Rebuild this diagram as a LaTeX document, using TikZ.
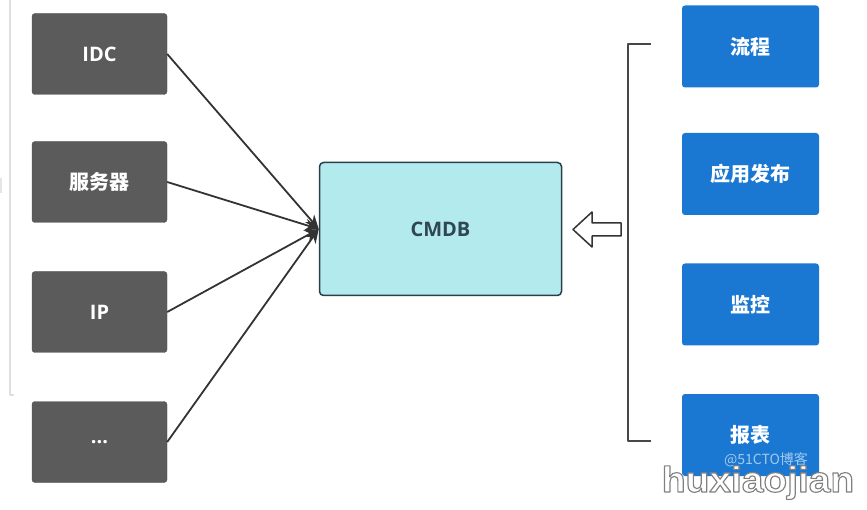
\documentclass[tikz,border=0pt]{standalone}
\usepackage{fontspec}
\setmainfont{Open Sans}
\newfontfamily\cjk{Noto Sans CJK SC}
\newfontfamily\wmfont{Liberation Sans}
\usepackage{tikz}
\usetikzlibrary{arrows.meta,positioning}
\definecolor{srcgray}{HTML}{5B5B5B}
\definecolor{appblue}{HTML}{1A78D2}
\definecolor{cmdbcyan}{HTML}{B3EAEE}
\definecolor{cmdbtext}{HTML}{2F4750}
\definecolor{linegray}{HTML}{333333}
\newcommand{\outlined}[1]{{\color{white}\special{pdf:literal direct 0.5 G 1.1 w 2 Tr}#1\special{pdf:literal direct 0 Tr}}}

\begin{document}
\begin{tikzpicture}[x=1pt, y=-1pt, line join=round,
  feed/.style={draw=linegray, line width=1.8pt, -{Stealth[length=14pt,width=12pt]}}]
   \useasboundingbox (0,0) rectangle (867,510);
   % faint frame on the left
   \draw[gray!25, line width=1.5pt] (10,0) -- (10,395) -- (14,395);
   \fill[gray!20] (0,178) rectangle (2,193);
   \begin{scope}[every node/.style={rectangle, rounded corners=3pt, fill=srcgray, draw=srcgray!85!black,
       minimum width=135pt, minimum height=81pt, text=white, font=\bfseries\fontsize{20}{24}\selectfont}]
    \node (idc) at (99.5,54) {IDC};
    \node (server) at (99.5,182) {\cjk 服务器};
    \node (ip) at (99.5,312) {IP};
    \node (more) at (99.5,442) {...};
   \end{scope}
   \node (cmdb) at (440.5,229) [rectangle, rounded corners=4pt, fill=cmdbcyan, draw=cmdbtext!90!black, line width=1.5pt,
       minimum width=242pt, minimum height=133pt, text=cmdbtext, font=\bfseries\fontsize{20}{24}\selectfont] {CMDB};
   \begin{scope}[every node/.style={rectangle, rounded corners=3pt, fill=appblue,
       minimum width=137pt, minimum height=82pt, text=white, font=\cjk\bfseries\fontsize{20}{24}\selectfont}]
    \node (flow) at (750.5,46.5) {流程};
    \node (deploy) at (750.5,174) {应用发布};
    \node (monitor) at (750.5,304.5) {监控};
    \node (report) at (750.5,435) {报表};
   \end{scope}
   % bracket around the consumers
   \coordinate (btop) at (651,44);
   \coordinate (bbot) at (651,441);
   \draw[draw=linegray!90, line width=1.8pt] (btop) -- ++(-23,0) |- (bbot);
   % hollow arrow into CMDB
   \coordinate (pulltip) at (573,229.5);
   \draw[draw=linegray, line width=1.5pt, fill=white] (pulltip) -- ++(19,-17.5) -- ++(0,11) -- ++(29,0)
       -- ++(0,13) -- ++(-29,0) -- ++(0,11) -- cycle;
   \begin{scope}[every edge/.style={feed}]
    \draw (idc.east) edge (cmdb.west);
    \draw (server.east) edge (cmdb.west);
    \draw (ip.east) edge (cmdb.west);
    \draw (more.east) edge (cmdb.west);
   \end{scope}
   % watermark
   \node (blog) at (766,460) [inner sep=0pt, text=white!60!appblue, font=\cjk\fontsize{14}{16}\selectfont] {@51CTO博客};
   \node (wmark) at (758,492) [anchor=base, inner sep=0pt, xscale=1.08,
       font=\wmfont\bfseries\fontsize{36}{40}\selectfont] {\outlined{huxiaojian}};
\end{tikzpicture}
\end{document}
